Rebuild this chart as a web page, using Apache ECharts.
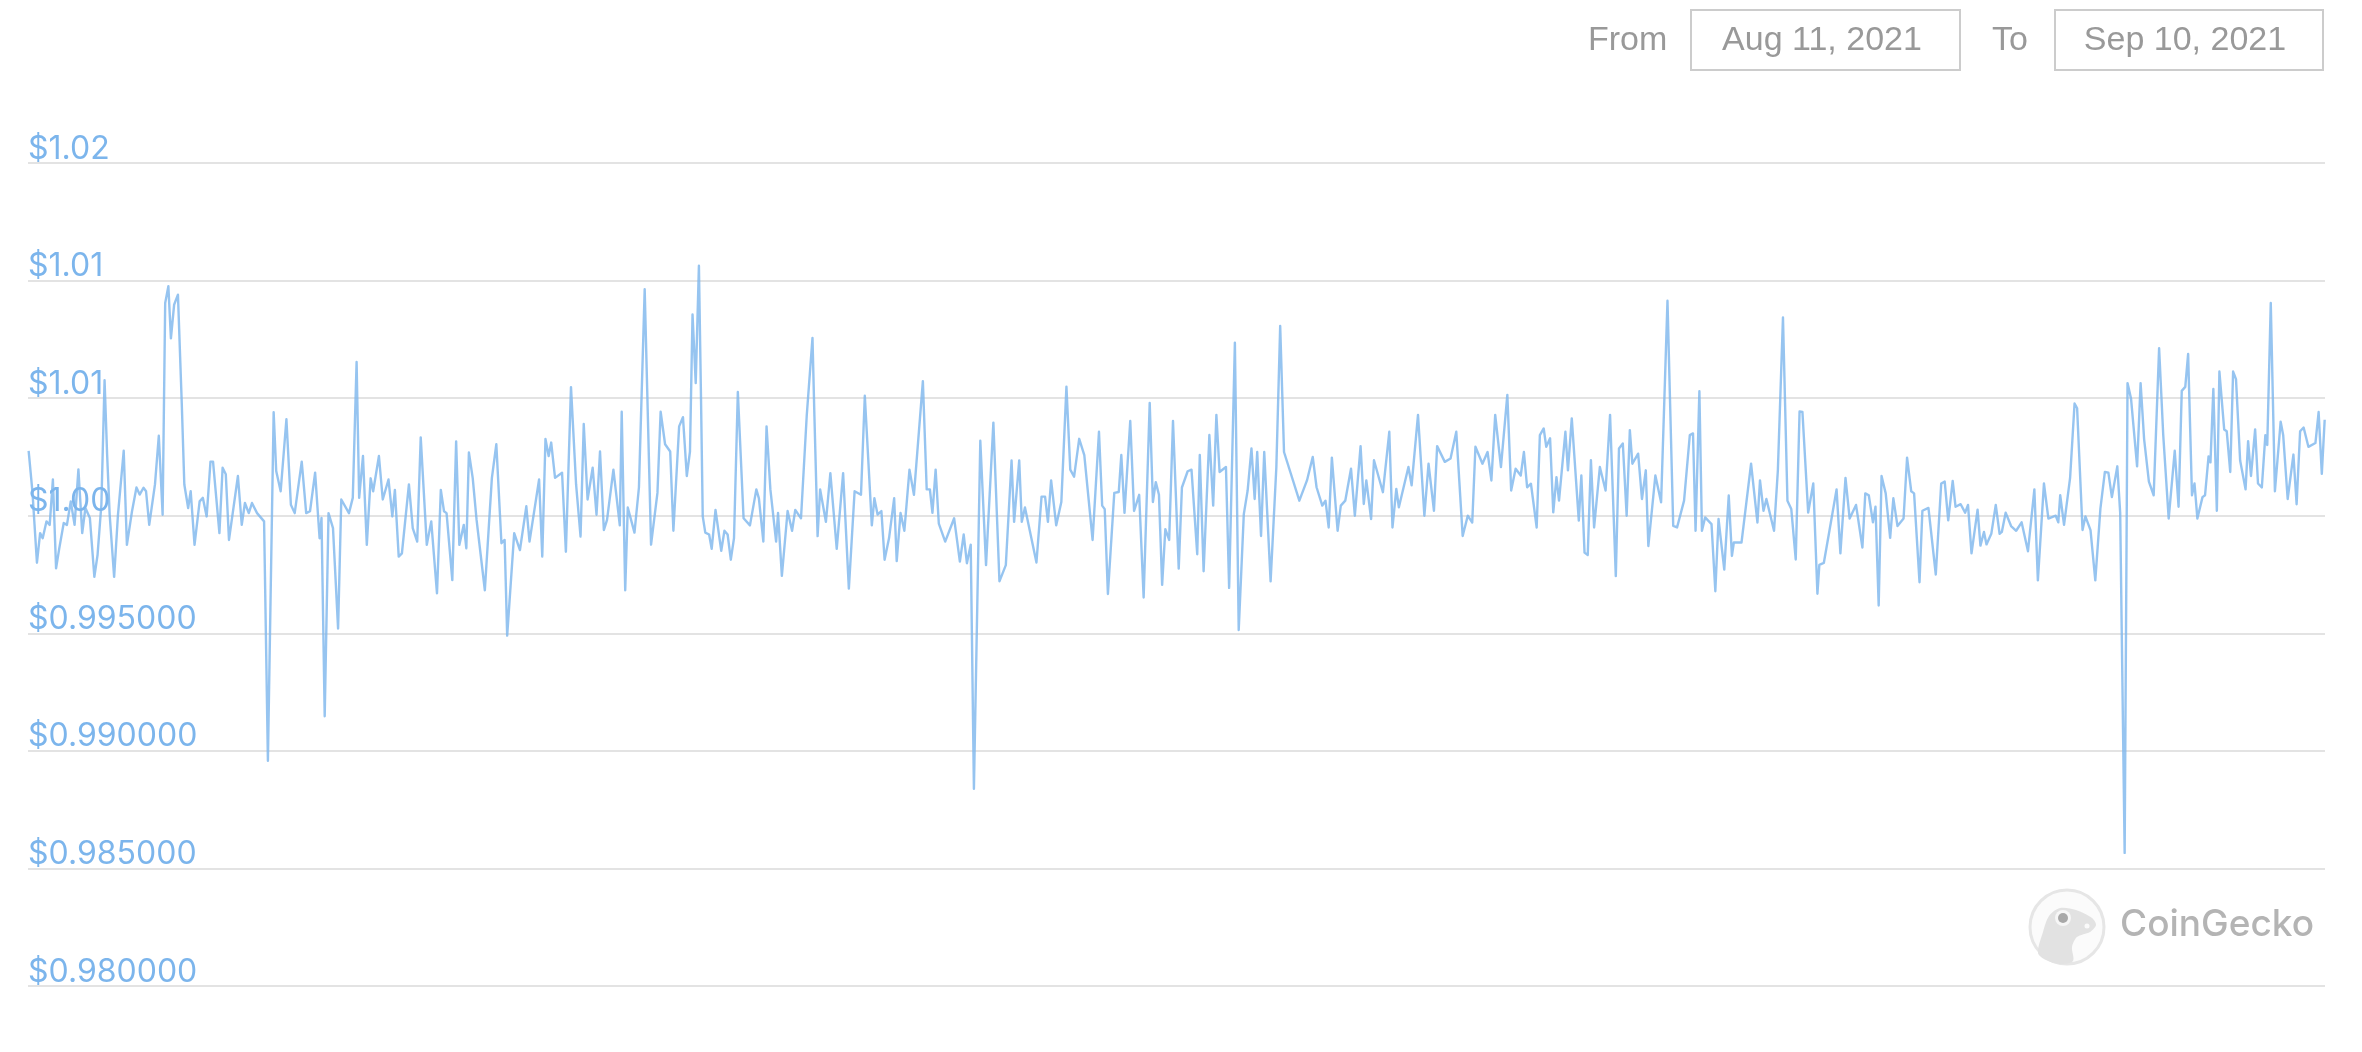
<!DOCTYPE html>
<html>
<head>
<meta charset="utf-8">
<style>html,body{margin:0;padding:0;background:#fff}#chart{width:2362px;height:1052px}</style>
<script src="https://cdn.jsdelivr.net/npm/echarts@6/dist/echarts.min.js"></script>
</head>
<body>
<div id="chart"></div>
<script>
const tickLabels = ['$0.980000','$0.985000','$0.990000','$0.995000','$1.00','$1.01','$1.01','$1.02'];
const dateFrom = 'Aug 11, 2021';
const dateTo = 'Sep 10, 2021';
const hours = [
0.2,1.4,2.8,3.8,4.6,5.8,6.8,7.8,8.8,9.8,
11.2,12.2,13.4,14.6,15.8,17,18,19.4,20.8,21.8,
23,24,24.8,25.6,27,28.2,30,31,32.6,34,
35,36.2,37,38,39.8,41,42.2,43,44,44.8,
45.8,47,48.2,49,50.2,51,52.2,53.8,54.8,56,
57.2,58,60,61,62,63,65.8,67,68,69.2,
70.2,71.8,74,75.2,77,77.8,79.2,81,82.4,83.6,
85.8,87.2,88.4,90,91.4,92,93,94.2,95.6,97.2,
98.2,100.6,101.8,103,103.8,105,106.2,107.4,108.2,110,
111.2,113,114.2,115,116.2,117.2,119.4,120.6,122,123.1,
125,126.4,128.2,129.4,130.4,131.2,133,134.2,135.2,136.6,
137.4,138.2,139.4,140.6,143.2,145.4,146.8,148.4,149.4,150.2,
152.4,154.2,156.2,157.2,160.2,161.2,162.2,163.2,164,165.2,
167.4,168.6,169.2,170.2,171.8,173.2,174.2,175.4,177,178.2,
179.3,180.5,181.5,183.5,185.5,186.1,187.2,188,190.1,191.5,
193.3,195.3,197.3,198.3,199.7,201.3,202.3,204.1,205.3,206.5,
207.5,208.3,209.3,210.3,210.9,211.5,212.3,213.5,214.3,215.5,
217.3,218.3,219.3,220.3,221.3,222.5,224.3,226.3,228.3,229.1,
230.5,231.5,232.7,233.3,234.5,235.1,236.3,238.1,239.5,240.5,
242.3,244.1,245.9,246.5,247.5,248.3,250.1,251.5,253.5,255.5,
257.3,259.1,261.1,262.3,264.5,265.3,266.3,267.5,268.5,269.9,
271.5,272.3,273.5,274.7,276.3,277.7,280.5,281.7,282.7,283.5,
284.5,285.5,287.5,290.3,292.1,293.3,294.3,295.5,296.5,298.5,
300.3,302.6,304.5,306.5,308.3,309.1,310.7,311.5,312.5,316.1,
316.7,317.7,318.8,319.7,320.7,322.3,323.9,325.5,326.7,327.9,
329.5,331.1,331.7,333.7,335.7,336.7,337.5,338.5,340.5,341.9,
342.7,343.7,345.5,346.7,348.3,349.7,351.6,352.6,353.5,354.5,
355.5,356.5,357.7,358.9,360.7,361.7,363.5,364.7,366.5,367.3,
367.7,368.5,370.3,371.5,372.5,373.5,375.5,376.5,378.3,379.5,
381.1,382.3,383.5,384.5,385.3,386.5,387.5,389.5,391.3,392.5,
393.7,398.5,400.9,402.7,403.9,405.7,406.7,407.7,408.7,410.5,
411.5,412.9,414.7,415.9,417.7,418.7,419.5,421,421.9,424.7,
426.7,427.7,428.9,429.7,432.7,433.7,435.7,437.7,439,440.7,
441.7,444.1,445.9,447.7,449.7,451.3,452.7,453.7,455.9,457.5,
458.7,459.9,461.7,463.7,464.9,466.3,467.9,468.9,469.9,471.1,
472.9,473.9,475.1,475.9,477.1,478.1,479.1,479.9,481.9,482.7,
483.9,486.1,486.9,487.9,488.9,489.9,490.9,492.7,494.5,495.9,
497.7,498.7,499.9,501.1,502.1,502.9,504.7,505.9,507.1,507.9,
510.1,511.9,513.9,515.7,516.9,519.1,520.9,521.9,522.7,523.9,
524.7,525.7,527.7,528.9,529.9,531.7,533.1,534.1,534.7,537.1,
540.1,542.1,542.9,544,544.9,547.3,548.5,550.1,551.5,552.7,
554.1,555.3,556.2,558,559.6,560.9,561.5,562.9,564.8,566.9,
568.1,569.7,571,573,575,575.9,577,578.3,579.1,580.1,
581,582.3,583.7,584.7,586,587.9,589,590.3,591.2,592.9,
593.8,595.7,598,599.7,600.8,601.9,603.3,604.2,605.8,607.2,
608.1,609.2,611.1,612,613.1,613.9,615.4,616.8,618,618.7,
619.9,621.6,623.2,624.9,626.9,628.9,630,631.9,633.3,635.6,
636.4,637,638.2,640.1,641.5,642.3,644,644.9,646.5,648,
649.6,651,652.1,653.2,654.9,655.8,657.2,658.1,659.2,661.1,
662.2,663.3,664.8,666.3,668,669.3,671,672.9,674.1,675.1,
676.2,677.1,678.3,679.1,680,681.6,682.4,683.5,684.1,685,
686.1,686.9,688.4,689.2,690.3,691.2,692.1,693.4,695.1,695.9,
696.8,698.1,699,700.2,701.3,701.9,703,704.3,706.1,706.9,
708.3,710.1,711.1,712.2,713.3,714.8,717,718,719,719.9
];
const prices = [
1.00276,1.001,0.998,0.99926,0.99904,0.99976,0.99961,1.00154,0.99776,0.99861,
0.99969,0.99961,1.00061,0.99961,1.00197,0.99926,1.00033,0.9999,0.9974,0.99833,
1.00047,1.00576,1.0026,1.00004,0.9974,1.00004,1.00276,0.99876,1.00019,1.0012,
1.0009,1.00119,1.00104,0.99961,1.00133,1.0034,1.00004,1.00904,1.00976,1.00754,
1.00897,1.0094,1.00476,1.00133,1.00033,1.00104,0.99876,1.00061,1.00076,0.99997,
1.0023,1.0023,0.99926,1.00204,1.00176,0.99897,1.00169,0.99961,1.00054,1.00011,
1.00054,1.00011,0.99976,0.98958,1.0044,1.0019,1.00104,1.0041,1.00047,1.00011,
1.0023,1.00011,1.00019,1.00183,0.99904,0.9999,0.99147,1.00011,0.99947,0.9952,
1.00069,1.00011,1.00076,1.00654,1.00076,1.00254,0.99876,1.00159,1.00104,1.00254,
1.00069,1.00154,0.99997,1.0011,0.99826,0.9984,1.00133,0.99947,0.9989,1.00333,
0.99876,0.99976,0.9967,1.0011,1.00019,1.00011,0.99726,1.00316,0.99876,0.99961,
0.99861,1.00269,1.0016,0.99983,0.99683,1.0016,1.00304,0.99883,0.99897,0.9949,
0.99926,0.99854,1.0004,0.9989,1.00154,0.99826,1.00326,1.00254,1.00311,1.00161,
1.00183,0.99847,0.99847,1.00547,1.00133,0.99911,1.0039,1.00069,1.00204,1.00004,
1.00273,0.99939,0.99982,1.00196,0.99959,1.00442,0.99683,1.00035,0.99928,1.0012,
1.00963,0.99877,1.00097,1.00442,1.00304,1.00273,0.99936,1.0038,1.00419,1.00169,
1.00273,1.00856,1.00564,1.01063,1.00549,0.99997,0.99928,0.9992,0.99859,1.00025,
0.99851,0.99936,0.9992,0.99813,0.99905,1.00526,0.99989,0.99959,1.00112,1.00074,
0.9989,1.0038,1.00112,1.00104,0.9989,1.00012,0.99744,1.0002,0.99936,1.00025,
0.99989,1.00426,1.00756,1.00426,0.99913,1.00112,0.99974,1.00181,0.99859,1.00181,
0.9969,1.00104,1.00089,1.0051,0.99959,1.00074,1.00005,1.0002,0.99813,0.99905,
1.00074,0.99807,1.00012,0.99936,1.00196,1.00089,1.00572,1.00112,1.00112,1.00012,
1.00196,0.99966,0.9989,0.99989,0.99805,0.9992,0.99798,0.99877,0.98839,1.00319,
0.9979,1.00396,0.99721,0.9979,1.00235,0.99974,1.00235,0.99974,1.00035,0.99801,
0.99805,1.00081,1.00081,0.99974,1.0015,0.99959,1.00058,1.00549,1.00196,1.00166,
1.00327,1.00258,1.00258,0.99897,1.00357,1.00043,1.00028,0.99667,1.00097,1.00101,
1.00258,1.00012,1.00403,1.0002,1.00089,0.99652,1.0048,1.00058,1.00143,1.00089,
0.99706,0.99943,0.99897,1.00403,0.99775,1.0012,1.00189,1.00196,0.99836,1.00258,
1.00257,0.99764,1.00343,1.00043,1.00429,1.00186,1.00207,0.99693,1.00736,0.99514,
1.00007,1.00107,1.00286,1.00071,1.00271,0.99914,1.00271,0.99721,1.00207,1.00807,
1.00271,1.00064,1.0015,1.0025,1.00121,1.00043,1.00064,0.9995,1.00247,0.99936,
1.00043,1.00064,1.002,1,1.00296,1.0005,1.0015,0.99986,1.00236,1.001,
1.00357,0.9995,1.00114,1.00036,1.00207,1.00129,1.00429,1,1.00221,1.00021,
1.00296,1.00229,1.00243,1.00357,0.99914,1,0.99971,1.00293,1.00221,1.00271,
1.0015,1.00429,1.00207,1.00514,1.00107,1.002,1.00171,1.00271,1.00121,1.00136,
0.9995,1.00343,1.00371,1.00293,1.00329,1.00014,1.00164,1.00064,1.00357,1.00193,
1.00414,0.99979,1.00171,0.99843,0.99833,1.00236,0.9995,1.00207,1.00107,1.00429,
0.99743,1.00286,1.00307,1,1.00364,1.00221,1.00264,1.00071,1.00193,0.99871,
1.00171,1.00057,1.00914,0.99957,0.9995,1.00064,1.00343,1.0035,0.99936,1.00529,
0.99936,0.99993,0.99964,0.99679,0.99986,0.99771,1.00086,0.99829,0.99886,0.99886,
1.00221,0.99971,1.0015,1.00021,1.00071,0.99936,1.00193,1.00843,1.00064,1.00029,
0.99814,1.00443,1.00441,1.00013,1.00137,0.99668,0.99791,0.99799,0.99947,1.00112,
0.9984,1.00161,0.99988,1.00046,0.99865,1.00095,1.00087,0.99972,1.00038,0.99618,
1.00169,1.00095,0.99906,1.00074,0.99956,0.99988,1.00247,1.00104,1.00095,0.99717,
1.00021,1.00033,0.9975,1.00137,1.00145,0.9998,1.00148,1.00038,1.00049,1.00013,
1.00046,0.9984,1.00026,0.99873,0.99931,0.99878,0.99923,1.00046,0.99923,0.99931,
1.00013,0.99956,0.99936,0.99972,0.99849,1.00112,0.99725,1.00137,0.99988,1,
0.99972,1.00087,0.99961,1.00161,1.00477,1.00457,0.99939,0.99997,0.99939,0.99725,
1.0003,1.00186,1.00183,1.00079,1.0021,1.00013,0.98566,1.00564,1.00498,1.0021,
1.00564,1.00326,1.00145,1.00087,1.00712,1.00342,0.99988,1.00276,1.00038,1.00531,
1.00548,1.00688,1.00087,1.00137,0.99988,1.00079,1.00087,1.00252,1.00227,1.00539,
1.00021,1.00613,1.00367,1.00359,1.00186,1.00613,1.00581,1.00235,1.00112,1.00317,
1.00169,1.00367,1.00137,1.0012,1.00342,1.00301,1.00905,1.00104,1.004,1.00342,
1.00071,1.0026,1.00049,1.00359,1.00375,1.00293,1.00309,1.00441,1.00178,1.00408
];
const chart = echarts.init(document.getElementById('chart'), null, {renderer: 'canvas'});
const uiFont = '"Liberation Sans", Arial, sans-serif';
const grey = '#999999';
const boxes = [
  {x: 1691, w: 269},
  {x: 2055, w: 268}
];
chart.setOption({
  animation: false,
  backgroundColor: '#ffffff',
  grid: {left: 28, right: 37, top: 163, bottom: 66, containLabel: false},
  xAxis: {type: 'value', min: 0, max: 720, show: false},
  yAxis: {
    type: 'value', min: 0.98, max: 1.015, interval: 0.005,
    axisLine: {show: false}, axisTick: {show: false},
    splitLine: {lineStyle: {color: '#e3e3e3', width: 2}},
    axisLabel: {
      inside: true, margin: 0, verticalAlign: 'bottom', align: 'left',
      color: '#7cb5ec', fontSize: 32, fontFamily: 'Inter', lineHeight: 28,
      formatter: (v, i) => tickLabels[i]
    }
  },
  series: [{
    type: 'line', showSymbol: false, smooth: false, sampling: false, clip: false,
    lineStyle: {color: '#7cb5ec', width: 2.4, opacity: 0.8, join: 'round'},
    data: hours.map((h, i) => [h, prices[i]])
  }],
  graphic: [
    {type: 'rect', shape: {x: boxes[0].x, y: 10, width: boxes[0].w, height: 60}, style: {fill: '#fff', stroke: '#cccccc', lineWidth: 2}},
    {type: 'rect', shape: {x: boxes[1].x, y: 10, width: boxes[1].w, height: 60}, style: {fill: '#fff', stroke: '#cccccc', lineWidth: 2}},
    {type: 'text', x: 1588, y: 41, style: {text: 'From', fill: grey, font: '34px ' + uiFont, textVerticalAlign: 'middle'}},
    {type: 'text', x: 1992, y: 41, style: {text: 'To', fill: grey, font: '34px ' + uiFont, textVerticalAlign: 'middle'}},
    {type: 'text', x: 1822, y: 41, style: {text: dateFrom, fill: grey, font: '34px ' + uiFont, textAlign: 'center', textVerticalAlign: 'middle'}},
    {type: 'text', x: 2185, y: 41, style: {text: dateTo, fill: grey, font: '34px ' + uiFont, textAlign: 'center', textVerticalAlign: 'middle'}},
    {type: 'circle', shape: {cx: 2067, cy: 927, r: 37}, style: {fill: '#fbfbfb', stroke: '#e6e6e6', lineWidth: 3}},
    {type: 'polygon', shape: {smooth: 0.3, points: [[2038,953],[2043,932],[2049,916],[2060,908],[2076,910],[2092,918],[2096,925],[2090,932],[2077,937],[2072,947],[2073,961],[2060,964],[2046,960]]}, style: {fill: '#e2e2e2'}},
    {type: 'circle', shape: {cx: 2063, cy: 918, r: 8}, style: {fill: '#f6f6f6'}},
    {type: 'circle', shape: {cx: 2063, cy: 918, r: 5}, style: {fill: '#a8a8a8'}},
    {type: 'circle', shape: {cx: 2087, cy: 926, r: 2.5}, style: {fill: '#fafafa'}},
    {type: 'text', x: 2120, y: 925, style: {text: 'CoinGecko', fill: '#b4b4b4', font: '500 37px Inter', textVerticalAlign: 'middle'}}
  ]
});
</script>
</body>
</html>
